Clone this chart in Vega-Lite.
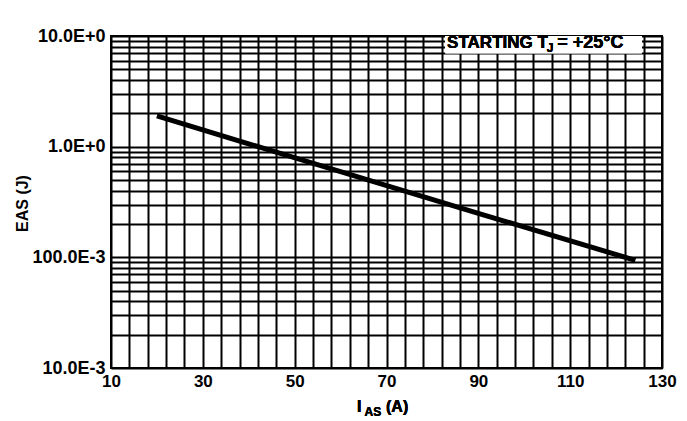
{
  "$schema": "https://vega.github.io/schema/vega-lite/v6.json",
  "autosize": {"type": "none"},
  "padding": {"left": 111, "top": 36, "right": 25, "bottom": 53},
  "width": 551,
  "height": 332,
  "background": "white",
  "config": {
    "view": {"stroke": "black", "strokeWidth": 2},
    "font": "Liberation Sans",
    "axis": {
      "gridColor": "black", "gridWidth": 2, "gridOpacity": 1,
      "ticks": false, "domain": false,
      "labelFont": "Liberation Sans", "labelFontWeight": "bold", "labelFontSize": 17, "labelColor": "black",
      "titleFont": "Liberation Sans", "titleFontWeight": "bold", "titleFontSize": 16, "titleColor": "black",
      "labelOverlap": false, "labelFlush": false, "labelBound": false
    }
  },
  "data": {"values": [
    {"I": 20, "E": 1.9},
    {"I": 51, "E": 0.77},
    {"I": 90, "E": 0.25},
    {"I": 124.2, "E": 0.094}
  ]},
  "layer": [
    {
      "mark": {"type": "line", "color": "black", "strokeWidth": 5},
      "encoding": {
        "x": {"field": "I", "type": "quantitative",
          "scale": {"domain": [10, 130], "nice": false, "zero": false},
          "axis": {"values": [10,14,18,22,26,30,34,38,42,46,50,54,58,62,66,70,74,78,82,86,90,94,98,102,106,110,114,118,122,126,130],
                   "tickCount": 200,
                   "labelExpr": "(datum.value-10)%20==0 ? ''+datum.value : ''",
                   "labelPadding": 5, "labelFontSize": 17, "title": null}},
        "y": {"field": "E", "type": "quantitative",
          "scale": {"type": "log", "domain": [0.01, 10], "nice": false},
          "axis": {"values": [0.01,0.02,0.03,0.04,0.05,0.06,0.07,0.08,0.09,0.1,0.2,0.3,0.4,0.5,0.6,0.7,0.8,0.9,1,2,3,4,5,6,7,8,9,10],
                   "tickCount": 200,
                   "labelExpr": "datum.value==10?'10.0E+0':datum.value==1?'1.0E+0':datum.value==0.1?'100.0E-3':datum.value==0.01?'10.0E-3':''",
                   "labelPadding": 6, "labelFontSize": 18,
                   "title": "EAS (J)", "titleColor": "black", "titleFontSize": 16, "titleX": -89, "titleY": 167, "titleAlign": "center", "titleBaseline": "middle"}}
      }
    },
    {
      "mark": {"type": "rect", "color": "white", "opacity": 1},
      "encoding": {
        "x": {"datum": 82.8}, "x2": {"datum": 125.6},
        "y": {"datum": 10}, "y2": {"datum": 7.0}
      }
    },
    {
      "mark": {"type": "text", "text": "STARTING T", "align": "left", "baseline": "alphabetic", "fontSize": 17, "fontWeight": "bold", "color": "black"},
      "encoding": {"x": {"datum": 83.2}, "y": {"datum": 7.79}}
    },
    {
      "mark": {"type": "text", "text": "J", "align": "left", "baseline": "alphabetic", "fontSize": 12, "fontWeight": "bold", "color": "black"},
      "encoding": {"x": {"datum": 104.9}, "y": {"datum": 7.17}}
    },
    {
      "mark": {"type": "text", "text": "= +25°C", "align": "left", "baseline": "alphabetic", "fontSize": 18, "fontWeight": "bold", "color": "black"},
      "encoding": {"x": {"datum": 107.2}, "y": {"datum": 7.79}}
    },
    {
      "mark": {"type": "text", "text": "I", "align": "left", "baseline": "alphabetic", "fontSize": 16, "fontWeight": "bold", "color": "black"},
      "encoding": {"x": {"datum": 63.6}, "y": {"datum": 0.0040}}
    },
    {
      "mark": {"type": "text", "text": "AS", "align": "left", "baseline": "alphabetic", "fontSize": 12, "fontWeight": "bold", "color": "black"},
      "encoding": {"x": {"datum": 65.2}, "y": {"datum": 0.00369}}
    },
    {
      "mark": {"type": "text", "text": "(A)", "align": "left", "baseline": "alphabetic", "fontSize": 16, "fontWeight": "bold", "color": "black"},
      "encoding": {"x": {"datum": 69.9}, "y": {"datum": 0.0040}}
    }
  ]
}
